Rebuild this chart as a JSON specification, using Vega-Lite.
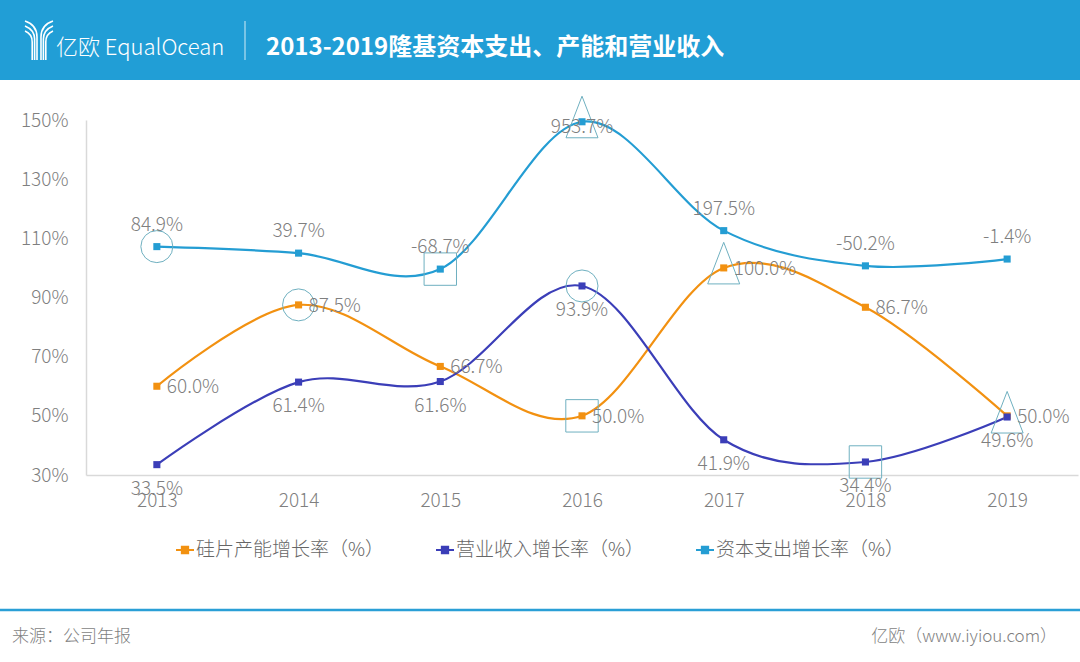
{
  "$schema": "https://vega.github.io/schema/vega-lite/v6.json",
  "width": 992,
  "height": 355,
  "autosize": {"type": "none"},
  "padding": {"left": 86, "top": 120, "right": 2, "bottom": 187},
  "background": "white",
  "config": {
    "view": {"stroke": null},
    "font": "Noto Sans CJK SC",
    "text": {"font": "Noto Sans CJK SC"}
  },
  "datasets": {
    "series": [
      {"year": "2013", "s": "硅片产能增长率（%）", "k": "wafer", "value": 60.0, "label": "60.0%"},
      {"year": "2014", "s": "硅片产能增长率（%）", "k": "wafer", "value": 87.5, "label": "87.5%"},
      {"year": "2015", "s": "硅片产能增长率（%）", "k": "wafer", "value": 66.7, "label": "66.7%"},
      {"year": "2016", "s": "硅片产能增长率（%）", "k": "wafer", "value": 50.0, "label": "50.0%"},
      {"year": "2017", "s": "硅片产能增长率（%）", "k": "wafer", "value": 100.0, "label": "100.0%"},
      {"year": "2018", "s": "硅片产能增长率（%）", "k": "wafer", "value": 86.7, "label": "86.7%"},
      {"year": "2019", "s": "硅片产能增长率（%）", "k": "wafer", "value": 50.0, "label": "50.0%"},
      {"year": "2013", "s": "营业收入增长率（%）", "k": "rev", "value": 33.5, "label": "33.5%"},
      {"year": "2014", "s": "营业收入增长率（%）", "k": "rev", "value": 61.4, "label": "61.4%"},
      {"year": "2015", "s": "营业收入增长率（%）", "k": "rev", "value": 61.6, "label": "61.6%"},
      {"year": "2016", "s": "营业收入增长率（%）", "k": "rev", "value": 93.9, "label": "93.9%"},
      {"year": "2017", "s": "营业收入增长率（%）", "k": "rev", "value": 41.9, "label": "41.9%"},
      {"year": "2018", "s": "营业收入增长率（%）", "k": "rev", "value": 34.4, "label": "34.4%"},
      {"year": "2019", "s": "营业收入增长率（%）", "k": "rev", "value": 49.6, "label": "49.6%"},
      {"year": "2013", "s": "资本支出增长率（%）", "k": "cap", "value": 107.2, "label": "84.9%"},
      {"year": "2014", "s": "资本支出增长率（%）", "k": "cap", "value": 105.0, "label": "39.7%"},
      {"year": "2015", "s": "资本支出增长率（%）", "k": "cap", "value": 99.6, "label": "-68.7%"},
      {"year": "2016", "s": "资本支出增长率（%）", "k": "cap", "value": 149.4, "label": "953.7%"},
      {"year": "2017", "s": "资本支出增长率（%）", "k": "cap", "value": 112.6, "label": "197.5%"},
      {"year": "2018", "s": "资本支出增长率（%）", "k": "cap", "value": 100.7, "label": "-50.2%"},
      {"year": "2019", "s": "资本支出增长率（%）", "k": "cap", "value": 103.0, "label": "-1.4%"}
    ]
  },
  "data": {"name": "series"},
  "encoding": {
    "x": {
      "field": "year", "type": "ordinal",
      "scale": {"type": "point", "padding": 0.5},
      "axis": {"title": null, "labelAngle": 0, "domainColor": "#D9D9D9", "domainWidth": 1.5, "ticks": false, "labelFontSize": 19, "labelFontWeight": 300, "labelColor": "#7F7F7F", "labelPadding": 16, "labelFont": "Noto Sans CJK SC"}
    },
    "y": {
      "field": "value", "type": "quantitative",
      "scale": {"domain": [30, 150], "nice": false, "zero": false},
      "axis": {"title": null, "values": [30, 50, 70, 90, 110, 130, 150], "labelExpr": "datum.value + '%'", "grid": false, "ticks": false, "domainColor": "#D9D9D9", "domainWidth": 1.5, "labelFontSize": 19, "labelFontWeight": 300, "labelColor": "#7F7F7F", "labelPadding": 18, "labelFont": "Noto Sans CJK SC"}
    }
  },
  "layer": [
    {
      "data": {"values": [{"part": "header"}]},
      "mark": {"type": "rect", "color": "#219ED6"},
      "encoding": {"x": {"value": -86}, "x2": {"value": 994}, "y": {"value": -120}, "y2": {"value": -40}}
    },
    {
      "data": {"values": [{"part": "logo"}]},
      "mark": {"type": "point", "shape": "M-0.7,-0.95Q-0.1,-0.75-0.1,-0.15L-0.1,1M-0.7,-0.7Q-0.22,-0.5-0.22,-0.05L-0.22,1M-0.7,-0.45Q-0.34,-0.3-0.34,0.1L-0.34,1M0.7,-0.95Q0.1,-0.75 0.1,-0.15L0.1,1M0.7,-0.7Q0.22,-0.5 0.22,-0.05L0.22,1M0.7,-0.45Q0.34,-0.3 0.34,0.1L0.34,1", "size": 1600, "filled": false, "stroke": "white", "strokeWidth": 1.6, "opacity": 1},
      "encoding": {"x": {"value": -47}, "y": {"value": -80}}
    },
    {
      "data": {"values": [{"part": "brand", "t": "亿欧 EqualOcean"}]},
      "mark": {"type": "text", "align": "left", "baseline": "middle", "fontSize": 22, "fontWeight": 300, "color": "white"},
      "encoding": {"x": {"value": -30}, "y": {"value": -72}, "text": {"field": "t"}}
    },
    {
      "data": {"values": [{"part": "divider"}]},
      "mark": {"type": "rule", "color": "white", "strokeWidth": 1, "opacity": 0.8},
      "encoding": {"x": {"value": 159}, "y": {"value": -99}, "y2": {"value": -60}}
    },
    {
      "data": {"values": [{"part": "title", "t": "2013-2019隆基资本支出、产能和营业收入"}]},
      "mark": {"type": "text", "align": "left", "baseline": "middle", "fontSize": 24, "fontWeight": "bold", "color": "white"},
      "encoding": {"x": {"value": 180}, "y": {"value": -72}, "text": {"field": "t"}}
    },
    {
      "data": {"values": [{"part": "footline"}]},
      "mark": {"type": "rule", "color": "#2A9FD6", "strokeWidth": 2.5},
      "encoding": {"x": {"value": -86}, "x2": {"value": 994}, "y": {"value": 490}}
    },
    {
      "data": {"values": [{"part": "source", "t": "来源：公司年报"}]},
      "mark": {"type": "text", "align": "left", "baseline": "middle", "fontSize": 17, "fontWeight": 300, "color": "#7F7F7F"},
      "encoding": {"x": {"value": -74}, "y": {"value": 517}, "text": {"field": "t"}}
    },
    {
      "data": {"values": [{"part": "credit", "t": "亿欧（www.iyiou.com）"}]},
      "mark": {"type": "text", "align": "right", "baseline": "middle", "fontSize": 17, "fontWeight": 300, "color": "#7F7F7F"},
      "encoding": {"x": {"value": 971}, "y": {"value": 517}, "text": {"field": "t"}}
    },
    {
      "mark": {"type": "line", "interpolate": "cardinal", "strokeWidth": 2.2},
      "encoding": {
        "color": {
          "field": "s", "type": "nominal",
          "scale": {"domain": ["硅片产能增长率（%）", "营业收入增长率（%）", "资本支出增长率（%）"], "range": ["#F29111", "#3B3EB8", "#249DD3"]},
          "legend": {
            "title": null, "orient": "none", "legendX": 89, "legendY": 420, "direction": "horizontal",
            "symbolType": "M-1,0L1,0M-0.35,-0.35L0.35,-0.35L0.35,0.35L-0.35,0.35Z",
            "symbolSize": 324, "symbolStrokeWidth": 2, "labelFontSize": 19, "labelFontWeight": 300, "labelColor": "#666666",
            "labelOffset": 1, "columnPadding": 47, "padding": 0, "labelLimit": 300, "labelFont": "Noto Sans CJK SC",
            "encode": {"symbols": {"update": {"fill": {"scale": "color", "field": "value"}, "stroke": {"scale": "color", "field": "value"}}}}
          }
        }
      }
    },
    {
      "mark": {"type": "point", "shape": "square", "filled": true, "size": 50, "opacity": 1},
      "encoding": {
        "fill": {
          "field": "s", "type": "nominal",
          "scale": {"domain": ["硅片产能增长率（%）", "营业收入增长率（%）", "资本支出增长率（%）"], "range": ["#F29111", "#3B3EB8", "#249DD3"]},
          "legend": null
        }
      }
    },
    {
      "transform": [{"filter": "(datum.k == 'cap' && datum.year == '2013') || (datum.k == 'wafer' && datum.year == '2014') || (datum.k == 'rev' && datum.year == '2016')"}],
      "mark": {"type": "point", "shape": "circle", "filled": false, "size": 1024, "stroke": "#6FB0C0", "strokeWidth": 1, "opacity": 1}
    },
    {
      "transform": [{"filter": "(datum.k == 'cap' && datum.year == '2015') || (datum.k == 'wafer' && datum.year == '2016') || (datum.k == 'rev' && datum.year == '2018')"}],
      "mark": {"type": "point", "shape": "square", "filled": false, "size": 1050, "stroke": "#6FB0C0", "strokeWidth": 1, "opacity": 1}
    },
    {
      "transform": [{"filter": "(datum.k == 'cap' && datum.year == '2016') || (datum.k == 'wafer' && datum.year == '2017') || (datum.k == 'rev' && datum.year == '2019')"}],
      "mark": {"type": "point", "shape": "M0,-1.6L1,1L-1,1Z", "filled": false, "size": 1024, "stroke": "#6FB0C0", "strokeWidth": 1, "opacity": 1}
    },
    {
      "transform": [{"filter": "datum.k == 'cap' && datum.year != '2016'"}],
      "mark": {"type": "text", "align": "center", "baseline": "middle", "dy": -22, "fontSize": 19, "fontWeight": 300, "color": "#7F7F7F"},
      "encoding": {"text": {"field": "label"}}
    },
    {
      "transform": [{"filter": "datum.k == 'cap' && datum.year == '2016'"}],
      "mark": {"type": "text", "align": "center", "baseline": "middle", "dy": 5, "fontSize": 19, "fontWeight": 300, "color": "#7F7F7F"},
      "encoding": {"text": {"field": "label"}}
    },
    {
      "transform": [{"filter": "datum.k == 'wafer'"}],
      "mark": {"type": "text", "align": "left", "baseline": "middle", "dx": 10, "dy": 1, "fontSize": 19, "fontWeight": 300, "color": "#7F7F7F"},
      "encoding": {"text": {"field": "label"}}
    },
    {
      "transform": [{"filter": "datum.k == 'rev'"}],
      "mark": {"type": "text", "align": "center", "baseline": "middle", "dy": 24, "fontSize": 19, "fontWeight": 300, "color": "#7F7F7F"},
      "encoding": {"text": {"field": "label"}}
    }
  ]
}
